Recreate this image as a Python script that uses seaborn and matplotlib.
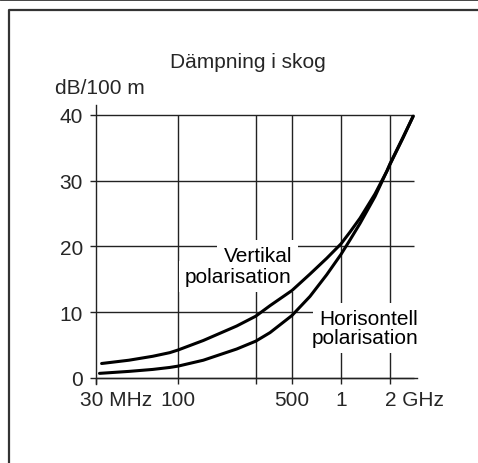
import numpy as np
import pandas as pd
import seaborn as sns
import matplotlib.pyplot as plt
from matplotlib.lines import Line2D
from matplotlib.transforms import ScaledTranslation

# values (frequency in MHz, attenuation in dB/100 m)
vert_freq = [34, 50, 70, 89, 100, 143, 229, 300, 367, 500, 645, 817, 1000, 1136,
             1308, 1617, 1915, 2000, 2400, 2770]
vert_db = [2.2, 2.7, 3.3, 3.85, 4.25, 5.7, 7.9, 9.4, 11.0, 13.3, 15.8, 18.2, 20.4, 22.2,
           24.3, 28.0, 31.5, 32.5, 36.5, 39.8]

hor_freq = [33, 50, 70, 89, 100, 143, 229, 300, 367, 500, 645, 817, 1000, 1136,
            1308, 1617, 1915, 2000, 2400, 2770]
hor_db = [0.7, 1.0, 1.3, 1.6, 1.8, 2.7, 4.4, 5.6, 6.9, 9.5, 12.4, 15.7, 18.8, 21.0,
          23.5, 27.6, 31.5, 32.6, 36.6, 39.8]

x_ticks = [31.4, 100, 300, 500, 1000, 2000]
x_labels = ['30 MHz', '100', '', '500', '1', '2 GHz']
y_ticks = [0, 10, 20, 30, 40]

vert = pd.DataFrame({'freq': vert_freq, 'db': vert_db})
hor = pd.DataFrame({'freq': hor_freq, 'db': hor_db})

sns.set_style('white')
plt.rcParams['font.family'] = ['Liberation Sans', 'DejaVu Sans']
fs = 15

fig = plt.figure(figsize=(4.78, 4.64), dpi=100)
ax = fig.add_axes([0.2008, 0.1705, 0.6716, 0.6008])
ax.set_xscale('log')
ax.set_xlim(31.4, 2926)
ax.set_ylim(-0.9, 41.5)

# grid
ax.hlines(y_ticks, 31.4, 2800, color='#222222', lw=1.0, zorder=1)
ax.vlines(x_ticks[1:], 0, 40, color='#222222', lw=1.0, zorder=1)

sns.lineplot(data=vert, x='freq', y='db', color='black', lw=2.2, ax=ax, zorder=5)
sns.lineplot(data=hor, x='freq', y='db', color='black', lw=2.2, ax=ax, zorder=5)

for sp in ['top', 'right']:
    ax.spines[sp].set_visible(False)
ax.spines['bottom'].set_position(('data', 0))
ax.spines['left'].set_color('#222222')
ax.spines['bottom'].set_color('#222222')
ax.spines['left'].set_linewidth(1.0)
ax.spines['bottom'].set_linewidth(1.0)

ax.minorticks_off()
ax.set_xticks(x_ticks)
ax.set_xticklabels(x_labels)
ax.set_yticks(y_ticks)
ax.tick_params(axis='both', direction='out', length=4, width=1.0, color='#222222',
               labelsize=fs, left=True, bottom=True)
ax.tick_params(axis='y', pad=5.5)
ax.tick_params(axis='x', pad=4.5)
ax.set_xlabel('')
ax.set_ylabel('')

# number part centred on the tick, unit trailing
labs = ax.get_xticklabels()
for lab, shift in [(labs[0], -15.5), (labs[-1], -5)]:
    lab.set_ha('left')
    lab.set_transform(lab.get_transform() + ScaledTranslation(shift / 100, 0, fig.dpi_scale_trans))

# curve labels: white knock-out boxes underneath, text on top
box = dict(boxstyle='square,pad=0.3', fc='white', ec='none')
labels = [(500, 17.8, 'Vertikal'), (500, 14.6, 'polarisation'),
          (2966, 8.2, 'Horisontell'), (2966, 5.3, 'polarisation')]
for x, y, s in labels:
    ax.text(x, y, s, ha='right', va='baseline', fontsize=fs, color='white', bbox=box, zorder=2)
for x, y, s in labels:
    ax.text(x, y, s, ha='right', va='baseline', fontsize=fs, color='black', zorder=3)

fig.text(0.518, 0.854, 'Dämpning i skog', ha='center', va='baseline', fontsize=fs)
fig.text(0.115, 0.797, 'dB/100 m', ha='left', va='baseline', fontsize=fs)

# outer frame
fig.add_artist(Line2D([0, 1], [0.999, 0.999], transform=fig.transFigure, color='#333333', lw=2))
fig.add_artist(Line2D([1, 8.5 / 478, 8.5 / 478], [1 - 10.5 / 464, 1 - 10.5 / 464, 0],
                      transform=fig.transFigure, color='#333333', lw=1.6))

fig.savefig('out.png', dpi=100)
